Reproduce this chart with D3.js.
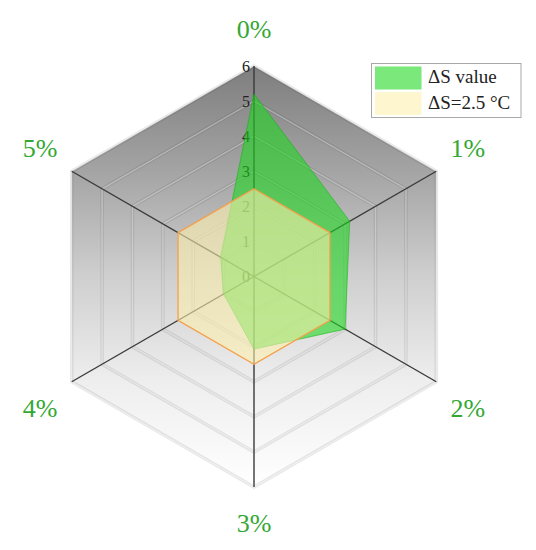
<!DOCTYPE html>
<html>
<head>
<meta charset="utf-8">
<script src="https://cdn.jsdelivr.net/npm/d3@7"></script>
<style>
  html, body { margin: 0; padding: 0; background: #fff; }
  svg { display: block; }
</style>
</head>
<body>
<svg id="chart" width="536" height="550"></svg>
<script>
const categories = ["0%", "1%", "2%", "3%", "4%", "5%"];
const deltaSValues = [5.2, 3.15, 3.0, 2.07, 1.0, 1.1];
const thresholdValues = [2.5, 2.5, 2.5, 2.5, 2.5, 2.5];
const tickValues = [0, 1, 2, 3, 4, 5, 6];
const seriesNames = ["ΔS value", "ΔS=2.5 °C"];

const svg = d3.select("#chart");
const cx = 254, cy = 276.5, R = 210.5;
const g = svg.append("g").attr("transform", `translate(${cx},${cy})`);
const serif = "'Liberation Serif', 'Times New Roman', serif";

const r = d3.scaleLinear().domain([0, 6]).range([0, R]);
const angle = d3.scaleLinear().domain([0, categories.length]).range([0, 2 * Math.PI]);

const radial = d3.lineRadial()
  .angle((d, i) => angle(i))
  .radius(d => r(d))
  .curve(d3.curveLinearClosed);

// gradient background
const defs = svg.append("defs");
const grad = defs.append("linearGradient")
  .attr("id", "bg").attr("gradientUnits", "userSpaceOnUse")
  .attr("x1", 0).attr("y1", -R).attr("x2", 0).attr("y2", R);
[[0, "#7e7e7e"], [0.25, "#a4a4a4"], [0.5, "#cfcfcf"], [0.75, "#eeeeee"], [1, "#ffffff"]]
  .forEach(([o, c]) => grad.append("stop").attr("offset", o).attr("stop-color", c));

const maxTick = tickValues[tickValues.length - 1];
g.append("path")
  .attr("d", radial(categories.map(() => maxTick)))
  .attr("fill", "url(#bg)");

// grid rings
tickValues.filter(v => v > 0).forEach(v => {
  const d = radial(categories.map(() => v));
  g.append("path").attr("d", d).attr("fill", "none")
    .attr("stroke", "rgba(0,0,0,0.09)").attr("stroke-width", 3.5);
  g.append("path").attr("d", d).attr("fill", "none")
    .attr("stroke", "rgba(255,255,255,0.35)").attr("stroke-width", 1.4);
});

// spokes
categories.forEach((c, i) => {
  const a = angle(i);
  g.append("line")
    .attr("x1", 0).attr("y1", 0)
    .attr("x2", Math.sin(a) * r(maxTick)).attr("y2", -Math.cos(a) * r(maxTick))
    .attr("stroke", "#3a3a3a").attr("stroke-width", 1.4);
});

// tick labels
g.selectAll(".tick").data(tickValues).enter().append("text")
  .attr("x", -4).attr("y", d => -r(d))
  .attr("text-anchor", "end").attr("dominant-baseline", "central")
  .attr("font-family", serif).attr("font-size", 16)
  .attr("fill", "#222")
  .text(d => d);

// series
g.append("path")
  .attr("d", radial(deltaSValues))
  .attr("fill", "rgba(25,215,25,0.58)")
  .attr("stroke", "rgba(10,180,10,0.5)").attr("stroke-width", 1);

g.append("path")
  .attr("d", radial(thresholdValues))
  .attr("fill", "rgba(252,240,170,0.58)")
  .attr("stroke", "#f5a04a").attr("stroke-width", 1.3);

// category labels
const LR = 247;
g.selectAll(".cat").data(categories).enter().append("text")
  .attr("x", (d, i) => Math.sin(angle(i)) * LR)
  .attr("y", (d, i) => {
    const a = angle(i);
    const base = -Math.cos(a) * LR;
    const side = Math.abs(Math.sin(a)) > 0.1;
    return base + (side ? (Math.cos(a) > 0 ? -5 : 8) : 0);
  })
  .attr("text-anchor", "middle").attr("dominant-baseline", "central")
  .attr("font-family", serif).attr("font-size", 26)
  .attr("fill", "#33a833")
  .text(d => d);

// legend
const lg = svg.append("g").attr("transform", "translate(371.5,63.5)");
lg.append("rect").attr("x", 0).attr("y", 0).attr("width", 149.5).attr("height", 54)
  .attr("fill", "#fff").attr("stroke", "#a8a8a8").attr("stroke-width", 1);
const swatches = ["rgba(25,215,25,0.58)", "rgba(252,240,170,0.58)"];
seriesNames.forEach((name, i) => {
  lg.append("rect").attr("x", 3.5).attr("y", 3 + i * 25.5).attr("width", 46.5).attr("height", 23)
    .attr("fill", swatches[i]);
  lg.append("text").attr("x", 56.5).attr("y", 19.5 + i * 26)
    .attr("font-family", serif).attr("font-size", 19)
    .attr("fill", "#222").text(name);
});
</script>
</body>
</html>
